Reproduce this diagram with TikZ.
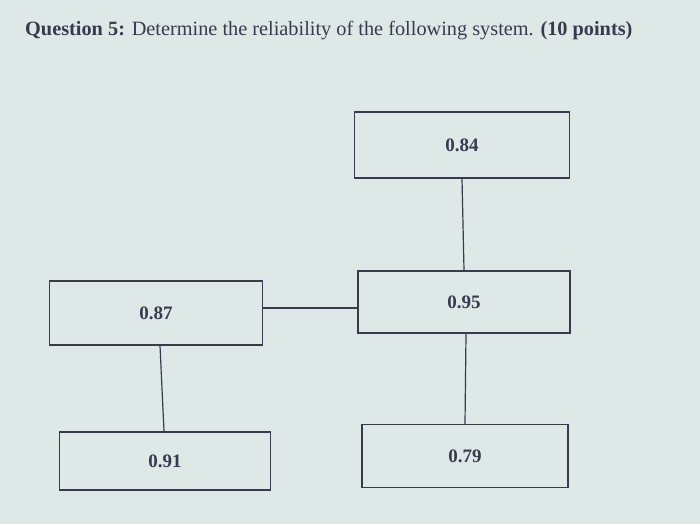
\documentclass[tikz,border=0pt]{standalone}
\usepackage{fontspec}
\usetikzlibrary{calc}
\setmainfont{Liberation Serif}
\definecolor{bgcol}{RGB}{222,232,230}
\definecolor{inkcol}{RGB}{58,58,78}
\begin{document}
\begin{tikzpicture}[x=1pt,y=-1pt,
  blk/.style={draw=inkcol,line width=1.5pt,minimum width=212pt,minimum height=64pt,inner sep=0pt,
    font=\fontsize{19}{22}\selectfont\bfseries,text=inkcol},
  link/.style={draw=inkcol,line width=1.2pt}]
\fill[bgcol] (0,0) rectangle (700,524);
\useasboundingbox (0,0) rectangle (700,524);
\node[anchor=base west,text=inkcol,font=\fontsize{20.3}{24}\selectfont,inner sep=0pt] (title) at (25,36)
  {\textbf{Question 5:} Determine the reliability of the following system. \textbf{(10 points)}};
\node[blk,minimum width=215pt,minimum height=66pt] (a) at (462,145) {0.84};
\node[blk,minimum height=62pt] (b) at (464,302) {0.95};
\node[blk,minimum width=213pt] (c) at (156,313) {0.87};
\node[blk,minimum width=211pt,minimum height=58pt] (d) at (165,461) {0.91};
\node[blk,minimum width=206pt,minimum height=63pt] (e) at (465,456) {0.79};
\draw[link] (a.south) -- (b.north);
\draw[link] (c.east |- 0,308) -- (b.west |- 0,308);
\draw[link] ($(c.south)+(4,0)$) -- ($(d.north)+(-1,0)$);
\draw[link] ($(b.south)+(2,0)$) -- (e.north);
\end{tikzpicture}
\end{document}
